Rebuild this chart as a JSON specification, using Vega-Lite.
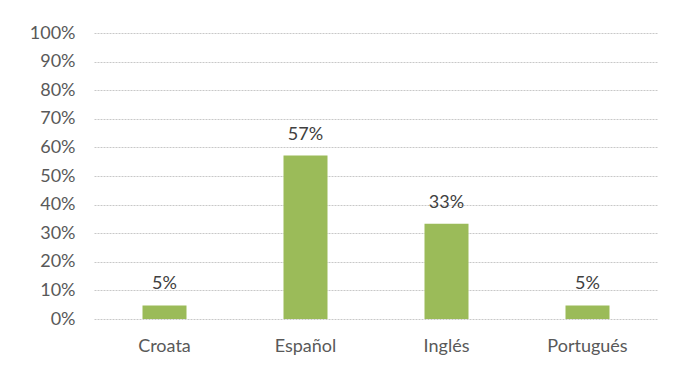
{
  "$schema": "https://vega.github.io/schema/vega-lite/v6.json",
  "autosize": {"type": "none"},
  "width": 564,
  "height": 286,
  "padding": {"left": 94, "top": 33, "right": 27, "bottom": 51},
  "background": "white",
  "config": {
    "view": {"stroke": null},
    "font": "Lato"
  },
  "data": {
    "values": [
      {"idioma": "Croata", "pct": 0.0476, "label": "5%"},
      {"idioma": "Español", "pct": 0.5714, "label": "57%"},
      {"idioma": "Inglés", "pct": 0.3333, "label": "33%"},
      {"idioma": "Portugués", "pct": 0.0476, "label": "5%"}
    ]
  },
  "encoding": {
    "x": {
      "field": "idioma",
      "type": "nominal",
      "sort": null,
      "scale": {"paddingInner": 0, "paddingOuter": 0},
      "axis": {
        "title": null,
        "labelAngle": 0,
        "domain": false,
        "ticks": false,
        "labelFontSize": 18,
        "labelColor": "#595959",
        "labelPadding": 18
      }
    },
    "y": {
      "field": "pct",
      "type": "quantitative",
      "scale": {"domain": [0, 1], "nice": false},
      "axis": {
        "title": null,
        "values": [0, 0.1, 0.2, 0.3, 0.4, 0.5, 0.6, 0.7, 0.8, 0.9, 1],
        "format": ".0%",
        "domain": false,
        "ticks": false,
        "labelFontSize": 18,
        "labelColor": "#595959",
        "labelPadding": 19,
        "grid": true,
        "gridColor": "#c8c8c8",
        "gridDash": [2, 1],
        "gridWidth": 1
      }
    }
  },
  "layer": [
    {"mark": {"type": "bar", "color": "#9BBB59", "size": 44}},
    {
      "mark": {"type": "text", "fontSize": 18, "color": "#404040", "baseline": "alphabetic", "dy": -16},
      "encoding": {"text": {"field": "label"}}
    }
  ]
}
